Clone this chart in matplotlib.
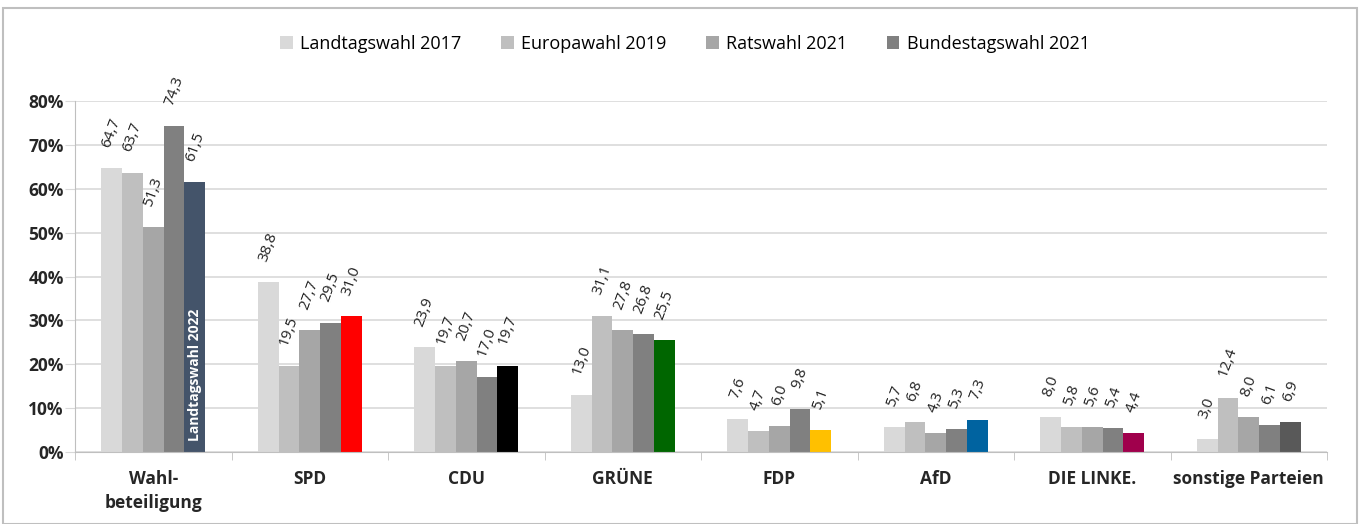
import numpy as np
import matplotlib.pyplot as plt
from matplotlib.patches import Rectangle

plt.rcParams['font.family'] = ['Open Sans', 'DejaVu Sans']

# Data
categories = ['Wahl-\nbeteiligung', 'SPD', 'CDU', 'GRÜNE', 'FDP', 'AfD', 'DIE LINKE.', 'sonstige Parteien']
series_names = ['Landtagswahl 2017', 'Europawahl 2019', 'Ratswahl 2021', 'Bundestagswahl 2021']
ltw_2017 = [64.7, 38.8, 23.9, 13.0, 7.6, 5.7, 8.0, 3.0]
euw_2019 = [63.7, 19.5, 19.7, 31.1, 4.7, 6.8, 5.8, 12.4]
rw_2021 = [51.3, 27.7, 20.7, 27.8, 6.0, 4.3, 5.6, 8.0]
btw_2021 = [74.3, 29.5, 17.0, 26.8, 9.8, 5.3, 5.4, 6.1]
ltw_2022 = [61.5, 31.0, 19.7, 25.5, 5.1, 7.3, 4.4, 6.9]

series_colors = ['#D9D9D9', '#BFBFBF', '#A6A6A6', '#808080']
party_colors = ['#44546A', '#FF0000', '#000000', '#006600', '#FFC000', '#0063A0', '#A0004C', '#595959']

W, H = 1363, 524
fig = plt.figure(figsize=(W / 100, H / 100), dpi=100)
fig.patches.append(Rectangle((3 / W, 0), 1354 / W, 1 - 8 / H, transform=fig.transFigure,
                             fill=False, edgecolor='#BFBFBF', linewidth=1.5))

ax = fig.add_axes([75 / W, 1 - 452 / H, (1327 - 75) / W, (452 - 101) / H])


def label(p, v):
    ax.text(p, v / 100 + 0.042, f'{v:.1f}'.replace('.', ','), rotation=70,
            ha='center', va='bottom', fontsize=11, color='#222222')


n = len(categories)
x = np.arange(n)
bw = 0.133
all_series = [ltw_2017, euw_2019, rw_2021, btw_2021]
for i, (vals, col) in enumerate(zip(all_series, series_colors)):
    pos = x + (i - 2) * bw
    ax.bar(pos, np.array(vals) / 100, bw, color=col, label=series_names[i], zorder=2)
    for p, v in zip(pos, vals):
        label(p, v)
pos = x + 2 * bw
ax.bar(pos, np.array(ltw_2022) / 100, bw, color=party_colors, zorder=2)
for p, v in zip(pos, ltw_2022):
    label(p, v)
ax.text(pos[0], 0.025, 'Landtagswahl 2022', rotation=90, ha='center', va='bottom',
        color='white', fontsize=10, fontweight='bold')

ax.set_xlim(-0.5, n - 0.5)
ax.set_ylim(0, 0.8)
ax.set_yticks(np.arange(0, 0.81, 0.1))
ax.set_yticklabels([f'{int(round(t * 100))}%' for t in np.arange(0, 0.81, 0.1)],
                   fontsize=12.5, fontweight='bold', color='#262626')
ax.set_xticks(x)
ax.set_xticklabels(categories, fontsize=12.5, fontweight='bold', color='#262626', linespacing=1.45)
ax.set_xticks(np.arange(-0.5, n, 1), minor=True)
ax.tick_params(axis='x', which='major', length=0, pad=13)
ax.tick_params(axis='x', which='minor', length=6, color='#BFBFBF')
ax.tick_params(axis='y', length=7, color='#D9D9D9', pad=1)
ax.grid(axis='y', color='#D9D9D9', linewidth=1.2, zorder=0)
ax.set_axisbelow(True)
for s in ['top', 'right']:
    ax.spines[s].set_visible(False)
ax.spines['left'].set_color('#BFBFBF')
ax.spines['bottom'].set_color('#BFBFBF')

handles, labels = ax.get_legend_handles_labels()
fig.legend(handles, labels, loc='center', bbox_to_anchor=(685 / W, 1 - 44 / H), ncol=4,
           frameon=False, fontsize=13, handlelength=0.7, handleheight=0.7,
           handletextpad=0.4, columnspacing=2.2)

fig.savefig('out.png', dpi=100)
